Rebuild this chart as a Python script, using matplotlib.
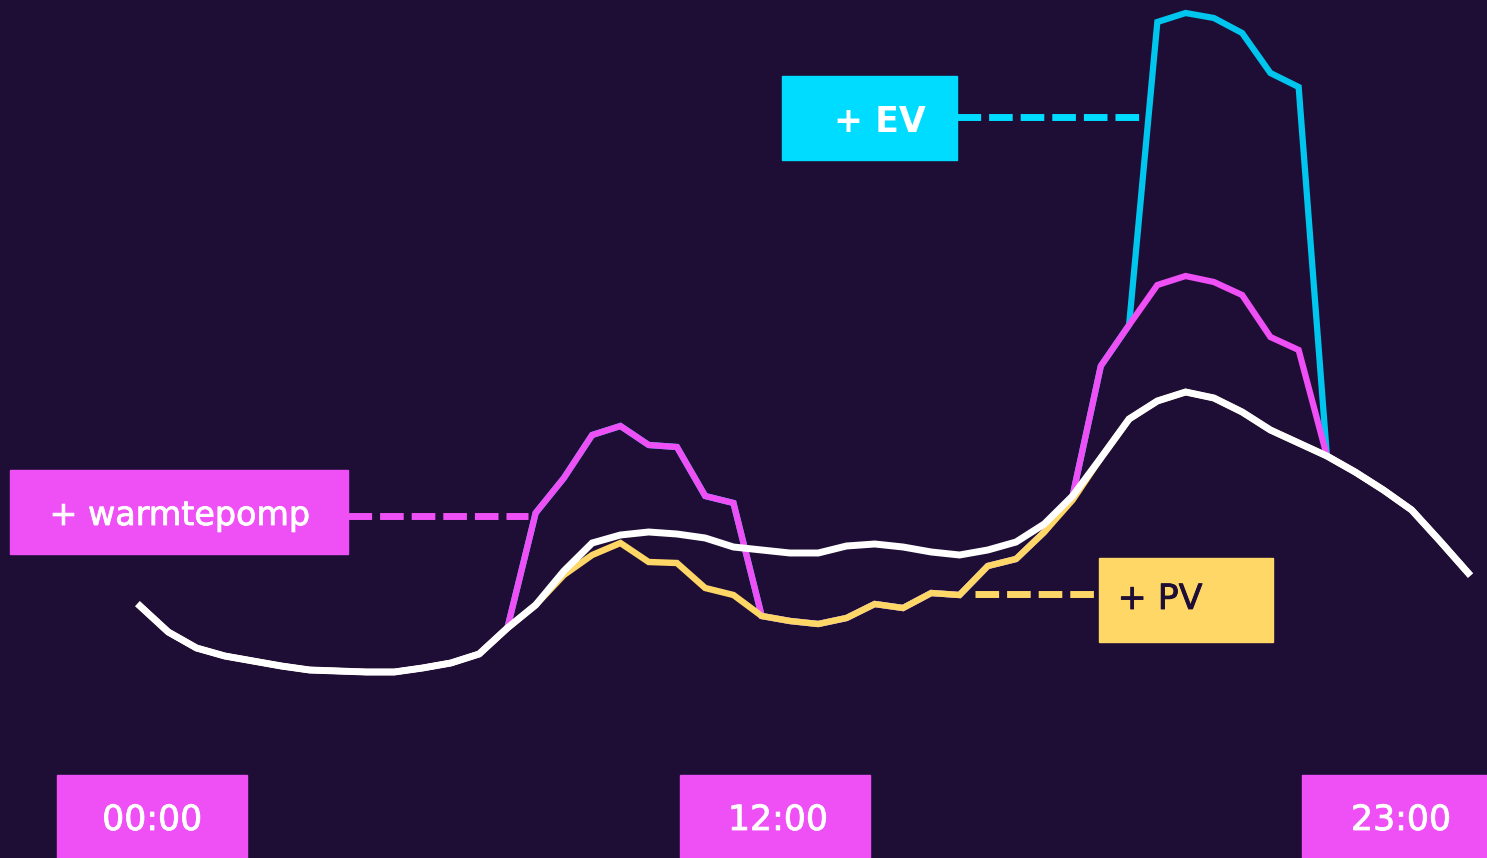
import numpy as np
import matplotlib.pyplot as plt
import matplotlib.patheffects as pe
from matplotlib.patches import Rectangle

# half-hourly load profile (kW), 48 steps
slots = np.arange(48)

base = [1.54, 1.28, 1.12, 1.04, 0.99, 0.94, 0.90, 0.89, 0.88, 0.88,
        0.92, 0.97, 1.06, 1.32, 1.55, 1.89, 2.17, 2.25, 2.28, 2.26,
        2.22, 2.13, 2.10, 2.07, 2.07, 2.14, 2.16, 2.13, 2.08, 2.05,
        2.10, 2.18, 2.36, 2.64, 3.02, 3.41, 3.59, 3.68, 3.62, 3.48,
        3.30, 3.17, 3.04, 2.88, 2.70, 2.50, 2.19, 1.87]

# with solar panels (only differs around midday)
pv = [1.54, 1.28, 1.12, 1.04, 0.99, 0.94, 0.90, 0.89, 0.88, 0.88,
      0.92, 0.97, 1.06, 1.32, 1.55, 1.85, 2.05, 2.17, 1.98, 1.97,
      1.72, 1.65, 1.44, 1.39, 1.36, 1.42, 1.56, 1.52, 1.67, 1.65,
      1.94, 2.01, 2.28, 2.60, 3.02, 3.41, 3.59, 3.68, 3.62, 3.48,
      3.30, 3.17, 3.04, 2.88, 2.70, 2.50, 2.19, 1.87]

# + heat pump
warmtepomp = [1.54, 1.28, 1.12, 1.04, 0.99, 0.94, 0.90, 0.89, 0.88, 0.88,
              0.92, 0.97, 1.06, 1.32, 2.47, 2.82, 3.25, 3.34, 3.15, 3.13,
              2.64, 2.57, 1.44, 1.39, 1.36, 1.42, 1.56, 1.52, 1.67, 1.65,
              1.94, 2.01, 2.28, 2.64, 3.94, 4.35, 4.75, 4.84, 4.78, 4.65,
              4.23, 4.10, 3.04, 2.88, 2.70, 2.50, 2.19, 1.87]

# + electric vehicle
ev = [1.54, 1.28, 1.12, 1.04, 0.99, 0.94, 0.90, 0.89, 0.88, 0.88,
      0.92, 0.97, 1.06, 1.32, 2.47, 2.82, 3.25, 3.34, 3.15, 3.13,
      2.64, 2.57, 1.44, 1.39, 1.36, 1.42, 1.56, 1.52, 1.67, 1.65,
      1.94, 2.01, 2.28, 2.64, 3.94, 4.35, 7.38, 7.47, 7.42, 7.27,
      6.87, 6.73, 3.04, 2.88, 2.70, 2.50, 2.19, 1.87]

time_labels = ['00:00', '12:00', '23:00']

BG = '#1e0e36'
MAGENTA = '#ef50f5'
CYAN = '#00c6ee'
CYAN_BOX = '#00dcff'
YELLOW = '#fed766'
FONT = 'DejaVu Sans'

W, H = 1487, 858
fig = plt.figure(figsize=(W / 100, H / 100), dpi=100, facecolor=BG)
ax = fig.add_axes([0, 0, 1, 1])
ax.set_facecolor(BG)
ax.set_xlim(-4.954, 47.665)
ax.set_ylim(-0.98, 7.60)
ax.axis('off')

ax.plot(slots, ev, color=CYAN, lw=4.5, zorder=2, solid_joinstyle='miter')
ax.plot(slots, warmtepomp, color=MAGENTA, lw=4.5, zorder=3, solid_joinstyle='miter')
ax.plot(slots, pv, color=YELLOW, lw=4.6, zorder=4, solid_joinstyle='miter')
ax.plot(slots, base, color='white', lw=5.0, zorder=5, solid_joinstyle='miter')


def fx(x):
    return x / W


def fy(y):
    return 1 - y / H


def box(x0, y0, x1, y1, color):
    ax.add_patch(Rectangle((fx(x0), fy(y1)), fx(x1 - x0), fy(y0) - fy(y1),
                           transform=ax.transAxes, color=color, zorder=6,
                           clip_on=False))


def connector(x0, x1, y, color):
    ax.plot([fx(x0), fx(x1)], [fy(y), fy(y)], transform=ax.transAxes,
            color=color, lw=5, dashes=(3.4, 1.15), solid_capstyle='butt',
            dash_capstyle='butt', zorder=1)


def label(x, y, s, color, size, bold=False):
    t = ax.text(fx(x), fy(y), s, transform=ax.transAxes, ha='center',
                va='baseline', color=color, fontsize=size,
                fontweight='bold' if bold else 'normal', family=FONT, zorder=7)
    if not bold:
        # thicken a little to look like a medium weight
        t.set_path_effects([pe.withStroke(linewidth=0.6, foreground=color)])
    return t


# EV label
box(782, 76, 957, 160, CYAN_BOX)
connector(957, 1142, 117, CYAN_BOX)
label(880, 132, '+ EV', 'white', 25, bold=True)

# warmtepomp label
box(10, 470, 348, 554, MAGENTA)
connector(348, 528, 516, MAGENTA)
label(180, 525, '+ warmtepomp', 'white', 24)

# PV label
box(1099, 558, 1273, 642, YELLOW)
connector(975, 1099, 594, YELLOW)
label(1160, 609, '+ PV', BG, 25)

# time boxes
for (x0, x1, xc), lab in zip([(57, 247, 152), (680, 870, 778), (1302, 1500, 1401)],
                             time_labels):
    box(x0, 775, x1, 870, MAGENTA)
    label(xc, 830, lab, 'white', 25)

fig.savefig('out.png', dpi=100, facecolor=BG)
